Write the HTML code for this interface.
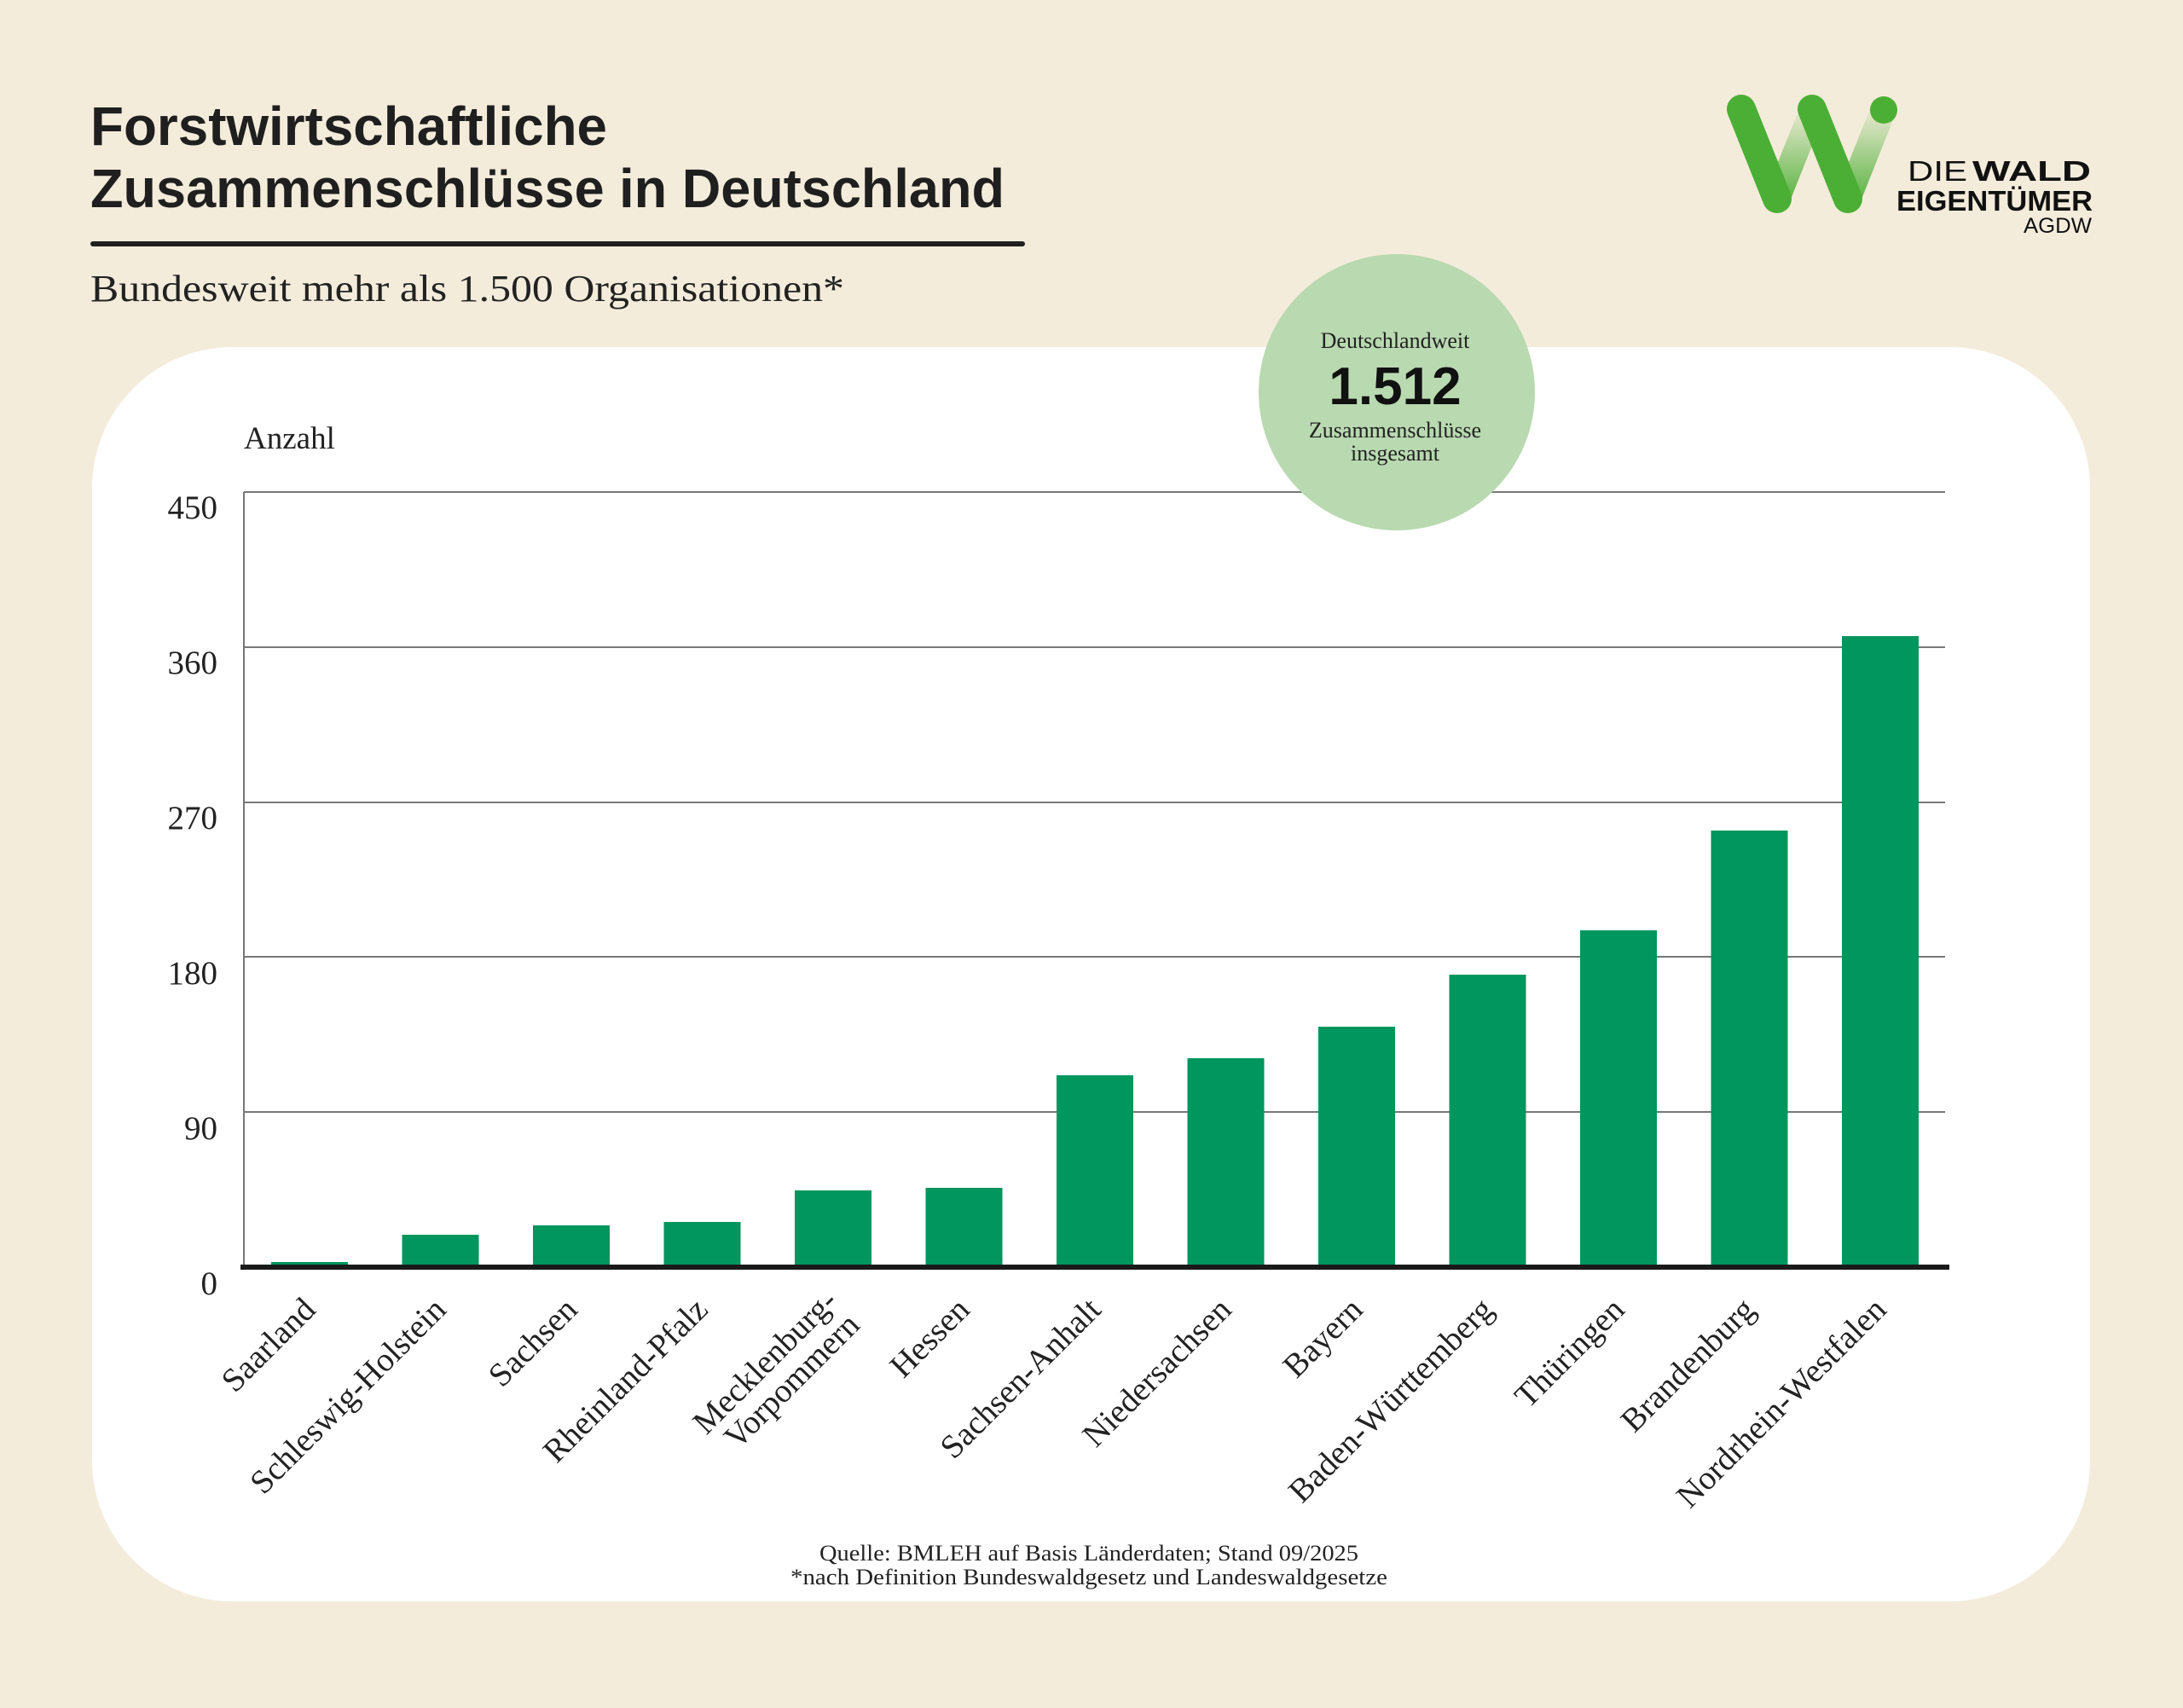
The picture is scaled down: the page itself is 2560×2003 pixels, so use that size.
<!DOCTYPE html>
<html><head><meta charset="utf-8"><style>html,body{margin:0;padding:0;background:#f4ecdb}svg{display:block}</style></head>
<body>
<svg width="2560" height="2003" viewBox="0 0 2560 2003" xmlns="http://www.w3.org/2000/svg">
<defs>
<linearGradient id="fa" x1="0" y1="1" x2="0" y2="0"><stop offset="0" stop-color="#4caf35" stop-opacity="0.9"/><stop offset="1" stop-color="#4caf35" stop-opacity="0.05"/></linearGradient>
</defs>
<rect width="2560" height="2003" fill="#f4ecdb"/>
<g font-family="Liberation Sans, sans-serif" font-weight="bold" fill="#1f1f1f">
<text x="106" y="170" font-size="64" textLength="606" lengthAdjust="spacingAndGlyphs">Forstwirtschaftliche</text>
<text x="106" y="243" font-size="64" textLength="1072" lengthAdjust="spacingAndGlyphs">Zusammenschlüsse in Deutschland</text>
</g>
<rect x="106" y="283" width="1096" height="6" rx="3" fill="#1f1f1f"/>
<text x="106" y="353" font-family="Liberation Serif, serif" font-size="44" fill="#222" textLength="884" lengthAdjust="spacingAndGlyphs">Bundesweit mehr als 1.500 Organisationen*</text>

<!-- logo -->
<line x1="2084" y1="233" x2="2126" y2="128" stroke="url(#fa)" stroke-width="30" stroke-linecap="round"/>
<line x1="2167" y1="233" x2="2209" y2="128" stroke="url(#fa)" stroke-width="30" stroke-linecap="round"/>
<line x1="2042" y1="128" x2="2084" y2="233" stroke="#4caf35" stroke-width="34" stroke-linecap="round"/>
<line x1="2125" y1="128" x2="2167" y2="233" stroke="#4caf35" stroke-width="34" stroke-linecap="round"/>
<circle cx="2209" cy="129" r="16" fill="#4caf35"/>
<g font-family="Liberation Sans, sans-serif" fill="#111">
<text x="2237" y="212" font-size="33" textLength="70" lengthAdjust="spacingAndGlyphs">DIE</text>
<text x="2313" y="212" font-size="33" font-weight="bold" textLength="139" lengthAdjust="spacingAndGlyphs">WALD</text>
<text x="2224" y="247" font-size="33" font-weight="bold" textLength="230" lengthAdjust="spacingAndGlyphs">EIGENTÜMER</text>
<text x="2453" y="273" font-size="25" text-anchor="end" textLength="80" lengthAdjust="spacingAndGlyphs">AGDW</text>
</g>

<!-- card -->
<rect x="108" y="407" width="2343" height="1471" rx="165" fill="#ffffff"/>

<!-- grid -->
<g stroke="#777" stroke-width="2">
<line x1="286" y1="577" x2="2281" y2="577"/>
<line x1="286" y1="759" x2="2281" y2="759"/>
<line x1="286" y1="941" x2="2281" y2="941"/>
<line x1="286" y1="1122" x2="2281" y2="1122"/>
<line x1="286" y1="1304" x2="2281" y2="1304"/>
<line x1="286" y1="577" x2="286" y2="1486"/>
</g>
<g font-family="Liberation Serif, serif" font-size="39" fill="#222" text-anchor="end">
<text x="255" y="608">450</text>
<text x="255" y="790">360</text>
<text x="255" y="972">270</text>
<text x="255" y="1154">180</text>
<text x="255" y="1336">90</text>
<text x="255" y="1518">0</text>
</g>
<text x="286" y="526" font-family="Liberation Serif, serif" font-size="37" fill="#222">Anzahl</text>

<!-- circle -->
<circle cx="1638" cy="460" r="162" fill="#b9d9b0"/>
<g font-family="Liberation Serif, serif" font-size="26" fill="#222" text-anchor="middle">
<text x="1636" y="408">Deutschlandweit</text>
<text x="1636" y="513">Zusammenschlüsse</text>
<text x="1636" y="540">insgesamt</text>
</g>
<text x="1636" y="474" font-family="Liberation Sans, sans-serif" font-weight="bold" font-size="62" fill="#111" text-anchor="middle">1.512</text>

<!-- bars -->
<g fill="#00965e">
<rect x="318" y="1480" width="90" height="6"/>
<rect x="471.5" y="1448" width="90" height="38"/>
<rect x="625" y="1437" width="90" height="49"/>
<rect x="778.5" y="1433" width="90" height="53"/>
<rect x="932" y="1396" width="90" height="90"/>
<rect x="1085.5" y="1393" width="90" height="93"/>
<rect x="1239" y="1261" width="90" height="225"/>
<rect x="1392.5" y="1241" width="90" height="245"/>
<rect x="1546" y="1204" width="90" height="282"/>
<rect x="1699.5" y="1143" width="90" height="343"/>
<rect x="1853" y="1091" width="90" height="395"/>
<rect x="2006.5" y="974" width="90" height="512"/>
<rect x="2160" y="746" width="90" height="740"/>
</g>
<rect x="282" y="1483" width="2004" height="6" fill="#1a1a1a"/>

<!-- x labels -->
<g font-family="Liberation Serif, serif" font-size="39" fill="#222" text-anchor="end">
<text transform="translate(372,1538) rotate(-45)">Saarland</text>
<text transform="translate(525,1538) rotate(-45)">Schleswig-Holstein</text>
<text transform="translate(679,1538) rotate(-45)">Sachsen</text>
<text transform="translate(832,1538) rotate(-45)">Rheinland-Pfalz</text>
<text transform="translate(984,1528) rotate(-45)">Mecklenburg-</text>
<text transform="translate(1010,1556) rotate(-45)">Vorpommern</text>
<text transform="translate(1139,1538) rotate(-45)">Hessen</text>
<text transform="translate(1293,1538) rotate(-45)">Sachsen-Anhalt</text>
<text transform="translate(1446,1538) rotate(-45)">Niedersachsen</text>
<text transform="translate(1600,1538) rotate(-45)">Bayern</text>
<text transform="translate(1753,1538) rotate(-45)">Baden-Württemberg</text>
<text transform="translate(1907,1538) rotate(-45)">Thüringen</text>
<text transform="translate(2060,1538) rotate(-45)">Brandenburg</text>
<text transform="translate(2214,1538) rotate(-45)">Nordrhein-Westfalen</text>
</g>

<g font-family="Liberation Serif, serif" font-size="26" fill="#222" text-anchor="middle">
<text x="1277" y="1830" textLength="632" lengthAdjust="spacingAndGlyphs">Quelle: BMLEH auf Basis Länderdaten; Stand 09/2025</text>
<text x="1277" y="1858" textLength="700" lengthAdjust="spacingAndGlyphs">*nach Definition Bundeswaldgesetz und Landeswaldgesetze</text>
</g>
</svg>
</body></html>
